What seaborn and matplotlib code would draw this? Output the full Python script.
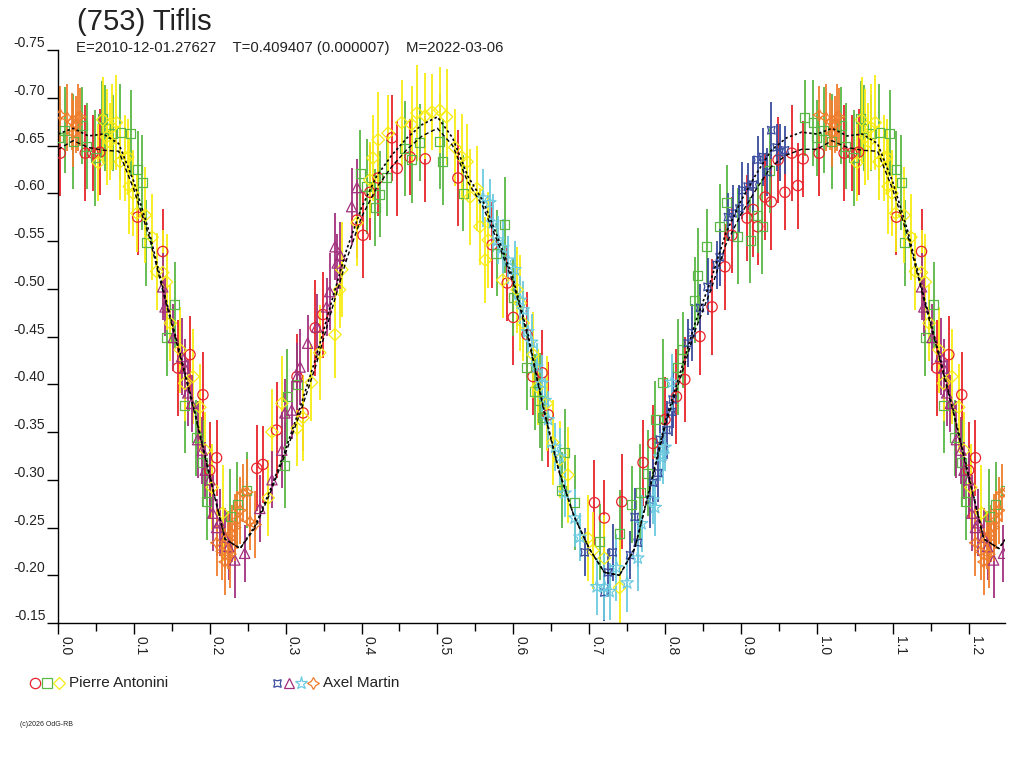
import numpy as np
import pandas as pd
import seaborn as sns
import matplotlib.pyplot as plt
from matplotlib.lines import Line2D
from matplotlib.transforms import ScaledTranslation

# Modèle (deux ajustements), phase 0..1
model_phase = [0.00, 0.02, 0.04, 0.06, 0.08, 0.10, 0.12, 0.14, 0.16, 0.18,
               0.20, 0.22, 0.24, 0.26, 0.28, 0.30, 0.32, 0.34, 0.36, 0.38,
               0.40, 0.42, 0.44, 0.46, 0.48, 0.50, 0.52, 0.54, 0.56, 0.58,
               0.60, 0.62, 0.64, 0.66, 0.68, 0.70, 0.72, 0.74, 0.76, 0.78,
               0.80, 0.82, 0.84, 0.86, 0.88, 0.90, 0.92, 0.94, 0.96, 0.98, 1.00]
model_a = [-0.662, -0.668, -0.660, -0.662, -0.652, -0.612, -0.560, -0.495, -0.435, -0.372,
           -0.305, -0.238, -0.228, -0.252, -0.290, -0.332, -0.378, -0.428, -0.485, -0.540,
           -0.585, -0.618, -0.640, -0.658, -0.672, -0.680, -0.658, -0.618, -0.592, -0.553,
           -0.510, -0.450, -0.375, -0.310, -0.262, -0.228, -0.203, -0.200, -0.228, -0.292,
           -0.360, -0.412, -0.465, -0.508, -0.558, -0.592, -0.620, -0.645, -0.658, -0.664, -0.662]
model_b = [-0.646, -0.655, -0.648, -0.645, -0.644, -0.604, -0.555, -0.492, -0.432, -0.370,
           -0.303, -0.238, -0.228, -0.250, -0.287, -0.328, -0.372, -0.420, -0.476, -0.530,
           -0.575, -0.606, -0.628, -0.646, -0.660, -0.668, -0.650, -0.612, -0.586, -0.548,
           -0.506, -0.447, -0.373, -0.309, -0.262, -0.228, -0.203, -0.200, -0.228, -0.290,
           -0.356, -0.406, -0.457, -0.498, -0.546, -0.578, -0.604, -0.628, -0.640, -0.646, -0.646]

# Pierre Antonini - session 1 (cercles rouges)
red_phase = [0.003, 0.036, 0.046, 0.055, 0.105, 0.138, 0.158, 0.174, 0.191, 0.200,
             0.209, 0.262, 0.270, 0.288, 0.315, 0.323, 0.339, 0.349, 0.394, 0.402,
             0.411, 0.422, 0.440, 0.447, 0.464, 0.484, 0.527, 0.572, 0.592, 0.600,
             0.618, 0.626, 0.638, 0.646, 0.707, 0.720, 0.743, 0.771, 0.784, 0.800,
             0.815, 0.826, 0.846, 0.862, 0.879, 0.888, 0.908, 0.916, 0.922, 0.932,
             0.940, 0.949, 0.958, 0.967, 0.975, 0.982]
red_mag = [-0.642, -0.642, -0.642, -0.643, -0.575, -0.539, -0.417, -0.431, -0.389, -0.310,
           -0.323, -0.312, -0.316, -0.352, -0.408, -0.370, -0.459, -0.473, -0.572, -0.556,
           -0.601, -0.616, -0.658, -0.626, -0.638, -0.636, -0.616, -0.546, -0.506, -0.470,
           -0.452, -0.408, -0.412, -0.368, -0.276, -0.260, -0.277, -0.318, -0.338, -0.363,
           -0.387, -0.405, -0.450, -0.481, -0.523, -0.556, -0.574, -0.583, -0.565, -0.596,
           -0.591, -0.635, -0.601, -0.642, -0.608, -0.636]
red_err = [0.045, 0.050, 0.040, 0.045, 0.040, 0.045, 0.050, 0.040, 0.045, 0.050,
           0.040, 0.045, 0.040, 0.050, 0.045, 0.040, 0.050, 0.045, 0.040, 0.045,
           0.050, 0.040, 0.045, 0.050, 0.040, 0.045, 0.050, 0.045, 0.040, 0.050,
           0.045, 0.040, 0.045, 0.055, 0.045, 0.040, 0.050, 0.045, 0.040, 0.045,
           0.050, 0.045, 0.040, 0.050, 0.045, 0.040, 0.045, 0.050, 0.040, 0.045,
           0.050, 0.045, 0.040, 0.050, 0.045, 0.040]

# Pierre Antonini - session 2 (carrés verts)
green_phase = [0.000, 0.009, 0.020, 0.032, 0.038, 0.049, 0.058, 0.062, 0.072, 0.082,
               0.096, 0.105, 0.111, 0.116, 0.143, 0.154, 0.167, 0.182, 0.191, 0.196,
               0.227, 0.236, 0.249, 0.299, 0.302, 0.315, 0.398, 0.407, 0.418, 0.424,
               0.433, 0.457, 0.466, 0.477, 0.503, 0.507, 0.534, 0.578, 0.589, 0.600,
               0.618, 0.628, 0.635, 0.638, 0.664, 0.668, 0.681, 0.714, 0.740, 0.756,
               0.767, 0.777, 0.787, 0.797, 0.817, 0.823, 0.839, 0.843, 0.855, 0.872,
               0.881, 0.896, 0.912, 0.922, 0.928, 0.938, 0.984, 0.995]
green_mag = [-0.658, -0.666, -0.654, -0.671, -0.649, -0.637, -0.678, -0.668, -0.663, -0.664,
             -0.663, -0.625, -0.611, -0.548, -0.449, -0.483, -0.378, -0.344, -0.318, -0.277,
             -0.261, -0.274, -0.289, -0.315, -0.387, -0.400, -0.621, -0.607, -0.585, -0.599,
             -0.616, -0.647, -0.635, -0.653, -0.654, -0.633, -0.600, -0.537, -0.567, -0.491,
             -0.418, -0.392, -0.383, -0.365, -0.289, -0.329, -0.276, -0.235, -0.244, -0.274,
             -0.287, -0.307, -0.363, -0.402, -0.418, -0.436, -0.488, -0.514, -0.544, -0.565,
             -0.590, -0.555, -0.551, -0.577, -0.565, -0.624, -0.679, -0.674]
green_err = [0.040, 0.045, 0.050, 0.040, 0.045, 0.050, 0.040, 0.045, 0.040, 0.050,
             0.045, 0.040, 0.050, 0.045, 0.040, 0.045, 0.050, 0.040, 0.045, 0.040,
             0.050, 0.045, 0.040, 0.045, 0.050, 0.040, 0.045, 0.050, 0.040, 0.045,
             0.040, 0.050, 0.045, 0.040, 0.050, 0.045, 0.040, 0.045, 0.050, 0.040,
             0.045, 0.040, 0.050, 0.045, 0.040, 0.045, 0.050, 0.040, 0.045, 0.040,
             0.050, 0.045, 0.040, 0.045, 0.050, 0.040, 0.045, 0.050, 0.040, 0.045,
             0.040, 0.050, 0.045, 0.040, 0.050, 0.045, 0.040, 0.045]

# Pierre Antonini - session 3 (losanges jaunes)
yellow_phase = [0.053, 0.059, 0.064, 0.068, 0.071, 0.077, 0.082, 0.088, 0.092, 0.094,
                0.099, 0.104, 0.115, 0.124, 0.130, 0.138, 0.143, 0.148, 0.161, 0.167,
                0.178, 0.187, 0.194, 0.203, 0.217, 0.277, 0.282, 0.295, 0.315, 0.323,
                0.334, 0.345, 0.365, 0.371, 0.374, 0.394, 0.411, 0.415, 0.422, 0.435,
                0.453, 0.466, 0.473, 0.484, 0.493, 0.503, 0.512, 0.523, 0.532, 0.539,
                0.543, 0.552, 0.556, 0.563, 0.567, 0.586, 0.605, 0.609, 0.613, 0.626,
                0.632, 0.644, 0.652, 0.661, 0.672, 0.698, 0.705, 0.720, 0.740]
yellow_mag = [-0.632, -0.677, -0.659, -0.654, -0.669, -0.674, -0.633, -0.637, -0.638, -0.607,
              -0.600, -0.579, -0.577, -0.554, -0.518, -0.517, -0.507, -0.464, -0.436, -0.401,
              -0.408, -0.376, -0.331, -0.292, -0.265, -0.281, -0.350, -0.380, -0.354, -0.365,
              -0.402, -0.433, -0.452, -0.499, -0.520, -0.569, -0.614, -0.637, -0.656, -0.663,
              -0.674, -0.672, -0.684, -0.681, -0.685, -0.687, -0.680, -0.648, -0.638, -0.633,
              -0.596, -0.605, -0.565, -0.530, -0.551, -0.509, -0.499, -0.485, -0.464, -0.431,
              -0.397, -0.380, -0.339, -0.321, -0.305, -0.239, -0.226, -0.218, -0.187]
yellow_err = [0.040, 0.045, 0.050, 0.040, 0.045, 0.050, 0.040, 0.045, 0.040, 0.050,
              0.045, 0.040, 0.050, 0.045, 0.040, 0.045, 0.050, 0.040, 0.045, 0.040,
              0.050, 0.045, 0.040, 0.045, 0.050, 0.040, 0.045, 0.050, 0.040, 0.045,
              0.040, 0.050, 0.045, 0.040, 0.050, 0.045, 0.040, 0.045, 0.050, 0.040,
              0.045, 0.040, 0.050, 0.045, 0.040, 0.045, 0.050, 0.040, 0.045, 0.040,
              0.050, 0.045, 0.040, 0.045, 0.050, 0.040, 0.045, 0.050, 0.040, 0.045,
              0.040, 0.050, 0.045, 0.040, 0.050, 0.045, 0.040, 0.045, 0.050]

# Axel Martin - session 1 (bleu)
blue_phase = [0.694, 0.720, 0.725, 0.731, 0.754, 0.760, 0.764, 0.780, 0.784, 0.791,
              0.793, 0.802, 0.809, 0.810, 0.830, 0.835, 0.846, 0.856, 0.868, 0.872,
              0.883, 0.889, 0.898, 0.902, 0.909, 0.916, 0.922, 0.929, 0.935, 0.940,
              0.947, 0.951, 0.958]
blue_mag = [-0.224, -0.182, -0.203, -0.224, -0.221, -0.261, -0.234, -0.279, -0.297, -0.307,
            -0.342, -0.352, -0.371, -0.384, -0.443, -0.454, -0.480, -0.502, -0.525, -0.533,
            -0.575, -0.579, -0.584, -0.603, -0.607, -0.609, -0.635, -0.638, -0.622, -0.666,
            -0.648, -0.643, -0.645]
blue_err = [0.025, 0.030, 0.025, 0.030, 0.025, 0.030, 0.025, 0.030, 0.025, 0.030,
            0.025, 0.030, 0.025, 0.030, 0.025, 0.030, 0.025, 0.030, 0.025, 0.030,
            0.025, 0.030, 0.025, 0.030, 0.025, 0.030, 0.025, 0.030, 0.025, 0.030,
            0.025, 0.030, 0.025]

# Axel Martin - session 2 (triangles violets)
purple_phase = [0.138, 0.141, 0.152, 0.163, 0.167, 0.171, 0.176, 0.184, 0.190, 0.194,
                0.200, 0.204, 0.209, 0.213, 0.220, 0.225, 0.233, 0.246, 0.266, 0.282,
                0.295, 0.299, 0.308, 0.315, 0.319, 0.329, 0.341, 0.354, 0.358, 0.365,
                0.368, 0.372, 0.387, 0.394]
purple_mag = [-0.502, -0.481, -0.449, -0.429, -0.417, -0.391, -0.380, -0.342, -0.331, -0.310,
              -0.300, -0.265, -0.250, -0.255, -0.240, -0.230, -0.216, -0.223, -0.270, -0.300,
              -0.331, -0.370, -0.373, -0.408, -0.418, -0.443, -0.460, -0.481, -0.497, -0.544,
              -0.527, -0.535, -0.586, -0.606]
purple_err = [0.035, 0.030, 0.035, 0.040, 0.030, 0.035, 0.030, 0.040, 0.035, 0.030,
              0.035, 0.040, 0.030, 0.035, 0.030, 0.035, 0.040, 0.030, 0.035, 0.030,
              0.040, 0.035, 0.030, 0.035, 0.040, 0.030, 0.035, 0.030, 0.040, 0.035,
              0.030, 0.035, 0.040, 0.030]

# Axel Martin - session 3 (étoiles cyan)
cyan_phase = [0.560, 0.569, 0.573, 0.580, 0.586, 0.593, 0.602, 0.609, 0.613, 0.619,
              0.624, 0.631, 0.638, 0.642, 0.646, 0.655, 0.661, 0.668, 0.681, 0.688,
              0.710, 0.720, 0.727, 0.736, 0.750, 0.764, 0.769, 0.784, 0.787, 0.793,
              0.797, 0.800, 0.809]
cyan_mag = [-0.595, -0.590, -0.569, -0.551, -0.543, -0.530, -0.520, -0.488, -0.478, -0.455,
            -0.444, -0.418, -0.401, -0.383, -0.363, -0.334, -0.324, -0.286, -0.260, -0.240,
            -0.188, -0.188, -0.183, -0.208, -0.192, -0.218, -0.254, -0.279, -0.271, -0.324,
            -0.326, -0.334, -0.402]
cyan_err = [0.030, 0.025, 0.030, 0.025, 0.030, 0.025, 0.030, 0.025, 0.030, 0.025,
            0.030, 0.025, 0.030, 0.025, 0.030, 0.025, 0.030, 0.025, 0.030, 0.025,
            0.030, 0.035, 0.030, 0.035, 0.030, 0.035, 0.030, 0.025, 0.030, 0.025,
            0.030, 0.025, 0.030]

# Axel Martin - session 4 (étoiles orange)
orange_phase = [0.003, 0.012, 0.018, 0.020, 0.024, 0.026, 0.029, 0.209, 0.216, 0.220,
                0.224, 0.227, 0.229, 0.233, 0.236, 0.240, 0.244, 0.249, 0.253, 0.260]
orange_mag = [-0.682, -0.679, -0.675, -0.663, -0.672, -0.679, -0.680, -0.234, -0.225, -0.214,
              -0.237, -0.222, -0.244, -0.250, -0.258, -0.268, -0.286, -0.287, -0.256, -0.253]
orange_err = [0.030, 0.035, 0.030, 0.035, 0.030, 0.035, 0.030, 0.035, 0.030, 0.035,
              0.030, 0.035, 0.030, 0.035, 0.030, 0.035, 0.030, 0.035, 0.030, 0.035]

title = "(753) Tiflis"
subtitle = "E=2010-12-01.27627    T=0.409407 (0.000007)    M=2022-03-06"
observers = ["Pierre Antonini", "Axel Martin"]

# session: (données, couleur, marqueur, taille)
sessions = {
    "PA1": (red_phase, red_mag, red_err, "#e8232b", "o", 55),
    "PA2": (green_phase, green_mag, green_err, "#5bb846", "s", 42),
    "PA3": (yellow_phase, yellow_mag, yellow_err, "#f7ec13", "D", 40),
    "AM1": (blue_phase, blue_mag, blue_err, "#3a4c9e", (4, 1, 45), 60),
    "AM2": (purple_phase, purple_mag, purple_err, "#a2307e", "^", 55),
    "AM3": (cyan_phase, cyan_mag, cyan_err, "#6ccbe0", "*", 90),
    "AM4": (orange_phase, orange_mag, orange_err, "#f07d2c", (4, 1, 0), 75),
}
legend_groups = [["PA1", "PA2", "PA3"], ["AM1", "AM2", "AM3", "AM4"]]

frames = []
for key, (ph, mg, er, col, mk, sz) in sessions.items():
    d = pd.DataFrame({"phase": ph, "mag": mg, "err": er})
    d["session"] = key
    # on répète le début de la phase après 1.0
    rep = d[d["phase"] < 0.25].copy()
    rep["phase"] = rep["phase"] + 1
    frames.append(pd.concat([d, rep]))
df = pd.concat(frames, ignore_index=True)

mp = np.array(model_phase)
extra = (mp > 0) & (mp <= 0.26)
model_df = pd.DataFrame({
    "phase": np.concatenate([mp, mp[extra] + 1]),
    "a": np.concatenate([model_a, np.array(model_a)[extra]]),
    "b": np.concatenate([model_b, np.array(model_b)[extra]]),
})

sns.set_theme(style="ticks")
plt.rcParams['font.family'] = ['Liberation Sans', 'DejaVu Sans']

fig = plt.figure(figsize=(10.24, 7.68), dpi=100)
ax = fig.add_axes([58 / 1024, 1 - 623 / 768, (1005 - 58) / 1024, (623 - 50) / 768])

for key, (ph, mg, er, col, mk, sz) in sessions.items():
    sub = df[df["session"] == key]
    ax.vlines(sub["phase"], sub["mag"] - sub["err"], sub["mag"] + sub["err"],
              color=col, lw=1.3, zorder=2)
    sns.scatterplot(data=sub, x="phase", y="mag", marker=mk, s=sz, ax=ax,
                    legend=False, zorder=3)
    pts = ax.collections[-1]
    pts.set_facecolor("none")
    pts.set_edgecolor(col)
    pts.set_linewidth(0.9)

sns.lineplot(data=model_df, x="phase", y="a", color="black", lw=1.2,
             linestyle=(0, (1.5, 1.5)), estimator=None, ax=ax, zorder=4)
sns.lineplot(data=model_df, x="phase", y="b", color="black", lw=1.0,
             linestyle=(0, (3, 2)), estimator=None, ax=ax, zorder=4)

ax.set_xlim(0, 1.248)
ax.set_ylim(-0.15, -0.75)
ax.set_xlabel("")
ax.set_ylabel("")
sns.despine(ax=ax)
for s in ["left", "bottom"]:
    ax.spines[s].set_color("black")
    ax.spines[s].set_linewidth(1)

xt = np.round(np.arange(0, 1.21, 0.1), 1)
ax.set_xticks(xt)
ax.set_xticklabels([f"{v:.1f}" for v in xt], rotation=-90, ha="left")
ax.set_xticks(np.round(np.arange(0.05, 1.25, 0.1), 2), minor=True)
yt = np.round(np.arange(-0.75, -0.149, 0.05), 2)
ax.set_yticks(yt)
ax.set_yticklabels([f"{v:.2f}" for v in yt])
ax.tick_params(axis="both", which="major", direction="out", length=8, width=1,
               color="black", labelsize=10, labelcolor="#222222", pad=1)
ax.tick_params(axis="x", which="minor", direction="out", length=6, width=1, color="black")
shift = ScaledTranslation(0, 6 / 72, fig.dpi_scale_trans)
for lab in ax.get_yticklabels():
    lab.set_transform(lab.get_transform() + shift)

fig.text(77 / 1024, 1 - 22 / 768, title, fontsize=21, color="#222222", va="center")
fig.text(76 / 1024, 1 - 48 / 768, subtitle, fontsize=10.7, color="#222222", va="center")
fig.text(20 / 1024, 1 - 724 / 768, "(c)2026 OdG-RB", fontsize=5, color="#222222", va="center")

# légende dessinée à la main
ly = 1 - 683 / 768
starts = [35, 277]
for grp, name, x0 in zip(legend_groups, observers, starts):
    for i, key in enumerate(grp):
        ph, mg, er, col, mk, sz = sessions[key]
        fig.add_artist(Line2D([(x0 + 12 * i) / 1024], [ly], transform=fig.transFigure,
                              marker=mk, markersize=np.sqrt(sz), markerfacecolor="none",
                              markeredgecolor=col, markeredgewidth=0.9, linestyle="none"))
    fig.text((x0 + 12 * len(grp) - 2) / 1024, ly, name, fontsize=11,
             color="#222222", va="center")

fig.savefig("out.png", dpi=100)
